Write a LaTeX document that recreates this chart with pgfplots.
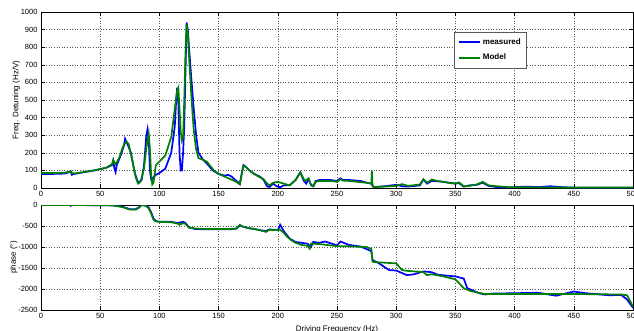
\documentclass[border=0pt]{standalone}
\usepackage{fontspec}
\setmainfont{Liberation Sans}
\usepackage{pgfplots}
\pgfplotsset{compat=1.18}
\definecolor{mblue}{RGB}{0,0,255}
\definecolor{mgreen}{RGB}{0,128,0}
\begin{document}
\begin{tikzpicture}[x=1pt,y=1pt]
\pgfplotsset{
  mstyle/.style={
    scale only axis, width=592pt,
    xmin=0, xmax=500, xtick={0,50,...,500},
    grid=major, major grid style={dash pattern=on 1pt off 1.6pt, gray!70!black, line width=0.4pt},
    tick align=inside, major tick length=4pt,
    xtick pos=both, ytick pos=both,
    axis line style={line width=0.5pt},
    tick style={black, line width=0.4pt},
    tick label style={font=\fontsize{7.5}{8}\selectfont},
    label style={font=\fontsize{8}{9}\selectfont},
    ylabel shift=-6pt,
    /pgf/number format/assume math mode=true,
    /pgf/number format/1000 sep={},
  }
}
\begin{axis}[mstyle, at={(41pt,142pt)}, anchor=south west, height=176pt,
  ymin=0, ymax=1000, ytick={0,100,...,1000},
  ylabel={Freq. Detuning (Hz/V)},
  legend style={at={(0.821,0.886)}, anchor=north east, draw=gray!70!black, line width=0.6pt,
    font=\bfseries\fontsize{8}{9}\selectfont, inner xsep=4pt, inner ysep=4.5pt, row sep=4pt,
    /tikz/every even column/.append style={column sep=2pt}},
  legend cell align=left,
  legend image code/.code={\draw[#1] (0pt,0.2pt) -- (21pt,0.2pt);},
]
\addlegendimage{color=mblue, line width=2pt}
\addlegendentry{measured\hspace{11pt}}
\addlegendimage{color=mgreen, line width=2pt}
\addlegendentry{Model}
\addplot[forget plot, mblue, line width=1.7pt, no marks] coordinates {
(0,80)(10,80)(20,82)(24,90)(25,95)(26,75)(28,80)(35,88)(45,100)(55,115)(60,130)(61,155)(62,110)(63,90)(64,130)(67,180)(70,240)(71,280)(73,250)(76,200)(79,90)(82,30)(85,45)(87,130)(89,300)(90,335)(91,280)(92,100)(93,50)(95,60)(97,75)(100,85)(105,110)(110,200)(113,350)(114,480)(115,570)(116,480)(117,200)(118,100)(119,100)(120,200)(121,350)(122,650)(123,940)(124,900)(125,800)(127,620)(129,450)(131,300)(133,200)(137,160)(140,140)(145,100)(150,80)(155,70)(158,75)(161,65)(165,40)(168,25)(170,100)(171,130)(173,120)(176,100)(180,80)(185,65)(188,45)(191,10)(193,5)(196,25)(199,10)(202,5)(205,15)(210,15)(215,45)(219,90)(222,40)(224,25)(226,50)(228,20)(230,10)(232,40)(235,45)(240,45)(245,45)(250,40)(253,55)(255,45)(261,45)(270,40)(275,30)(279,25)(281,5)(290,10)(300,18)(305,10)(310,8)(320,15)(323,48)(326,25)(330,40)(335,38)(340,35)(345,30)(350,25)(353,28)(357,8)(362,15)(368,18)(373,30)(378,12)(385,5)(395,3)(400,5)(410,8)(420,5)(430,10)(440,5)(450,2)(500,2)
};
\addplot[forget plot, mgreen, line width=1.7pt, no marks] coordinates {
(0,85)(10,85)(20,87)(24,92)(25,97)(26,85)(28,82)(35,90)(45,100)(55,115)(60,135)(61,160)(62,145)(63,135)(66,170)(69,230)(72,265)(74,250)(77,160)(80,60)(82,25)(84,35)(87,110)(89,230)(91,305)(92,220)(93,80)(94,20)(95,30)(97,130)(100,150)(105,185)(110,290)(113,450)(115,555)(116,570)(117,450)(118,320)(119,270)(120,290)(121,500)(122,760)(123,930)(124,880)(125,750)(127,520)(129,330)(131,220)(133,170)(137,160)(140,150)(143,125)(146,100)(150,80)(155,65)(160,50)(165,35)(168,20)(170,95)(171,125)(173,120)(176,100)(180,80)(185,60)(188,50)(191,25)(193,15)(196,30)(200,35)(205,25)(210,15)(215,45)(219,88)(222,50)(223,40)(226,55)(228,15)(230,10)(232,35)(235,40)(240,40)(245,40)(250,35)(252,45)(253,50)(255,42)(261,40)(270,33)(275,30)(279,25)(279.5,97)(280,10)(281,5)(290,8)(300,12)(305,22)(310,12)(320,20)(323,50)(326,30)(330,48)(335,40)(340,35)(345,28)(350,25)(353,32)(357,10)(362,12)(368,20)(373,35)(378,15)(385,10)(395,5)(400,4)(450,3)(500,3)
};
\end{axis}
\begin{axis}[mstyle, at={(41pt,20pt)}, anchor=south west, height=105pt,
  ymin=-2500, ymax=0, ytick={-2500,-2000,...,0},
  ylabel={phase (°)}, xlabel={Driving Frequency (Hz)},
]
\addplot[mblue, line width=1.7pt, no marks] coordinates {
(0,0)(24,0)(25,-20)(26,0)(60,-10)(65,-20)(70,-50)(75,-100)(80,-100)(83,-50)(85,0)(89,-20)(91,-60)(93,-170)(95,-320)(97,-380)(100,-400)(110,-400)(115,-430)(117,-420)(120,-400)(122,-430)(125,-530)(130,-570)(140,-580)(160,-580)(165,-560)(168,-490)(170,-510)(175,-550)(180,-570)(185,-600)(190,-620)(193,-580)(200,-600)(202,-470)(205,-620)(210,-800)(215,-880)(220,-900)(225,-920)(228,-1000)(230,-880)(235,-900)(240,-870)(250,-960)(253,-870)(260,-950)(270,-990)(275,-1050)(279,-1100)(280,-1310)(285,-1380)(294,-1550)(300,-1560)(309,-1670)(315,-1650)(323,-1580)(330,-1600)(335,-1660)(350,-1700)(357,-1750)(360,-1980)(370,-2100)(375,-2130)(380,-2110)(400,-2100)(420,-2090)(435,-2160)(450,-2060)(460,-2100)(480,-2150)(490,-2140)(495,-2250)(500,-2450)
};
\addplot[mgreen, line width=1.7pt, no marks] coordinates {
(0,0)(60,-5)(65,-30)(70,-60)(75,-110)(80,-110)(83,-60)(85,0)(88,-10)(91,-80)(93,-200)(95,-350)(97,-390)(100,-400)(110,-410)(115,-440)(117,-470)(120,-430)(122,-450)(125,-540)(130,-560)(140,-570)(160,-570)(165,-560)(168,-470)(170,-510)(175,-550)(180,-570)(185,-600)(190,-640)(193,-590)(196,-600)(202,-590)(205,-660)(208,-760)(212,-850)(215,-900)(220,-950)(225,-970)(227,-1040)(228,-920)(235,-930)(250,-980)(261,-985)(275,-1000)(279,-1050)(280,-1350)(282,-1360)(300,-1390)(305,-1550)(310,-1570)(320,-1590)(323,-1600)(326,-1670)(330,-1650)(340,-1700)(350,-1770)(357,-1980)(363,-2050)(375,-2120)(400,-2120)(450,-2120)(490,-2130)(495,-2150)(500,-2420)
};
\end{axis}
\pgfresetboundingbox
\useasboundingbox (0,0) rectangle (634,330);
\end{tikzpicture}
\end{document}
